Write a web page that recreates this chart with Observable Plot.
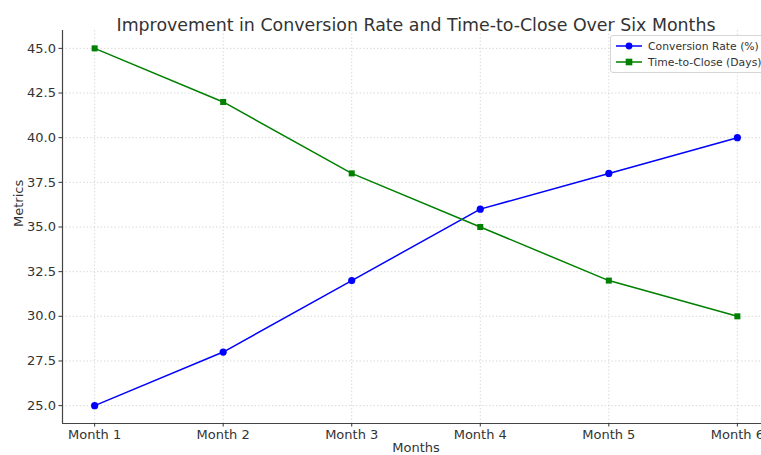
<!DOCTYPE html>
<html>
<head>
<meta charset="utf-8">
<script src="https://cdn.jsdelivr.net/npm/d3@7"></script>
<script src="https://cdn.jsdelivr.net/npm/@observablehq/plot@0.6"></script>
<style>
  html, body { margin: 0; padding: 0; background: #fff; overflow: hidden; }
  #wrap { position: relative; width: 761px; height: 455px; overflow: hidden; font-family: "DejaVu Sans", sans-serif; }
  #legend {
    position: absolute; left: 610px; top: 35px; width: 160px; height: 38px;
    border: 1px solid #d6d6d6; border-radius: 3px; background: rgba(255,255,255,0.8);
    font-size: 10.8px; color: #333; box-sizing: border-box;
  }
  .row { position: absolute; left: 4px; height: 14px; display: flex; align-items: center; }
  .row svg { margin-right: 5px; }
</style>
</head>
<body>
<div id="wrap"></div>
<script>
// Monthly metrics
const months = ["Month 1", "Month 2", "Month 3", "Month 4", "Month 5", "Month 6"];
const conversionRate = [25, 28, 32, 36, 38, 40];
const timeToClose = [45, 42, 38, 35, 32, 30];
const yTicks = [25, 27.5, 30, 32.5, 35, 37.5, 40, 42.5, 45];

const title = "Improvement in Conversion Rate and Time-to-Close Over Six Months";
const seriesNames = ["Conversion Rate (%)", "Time-to-Close (Days)"];
const seriesColors = ["blue", "green"];

const rows = months.map((m, i) => ({i, month: m, conv: conversionRate[i], ttc: timeToClose[i]}));

const font = "DejaVu Sans, sans-serif";
const chart = Plot.plot({
  width: 761,
  height: 455,
  marginLeft: 62,
  marginRight: 0,
  marginTop: 30,
  marginBottom: 32,
  style: {fontFamily: font, background: "#fff", overflow: "visible"},
  x: {domain: [-0.25, 5.25], range: [62, 769], axis: null},
  y: {domain: [24, 46], axis: null},
  marks: [
    // dotted grid
    Plot.ruleX(d3.range(months.length), {stroke: "#d0d0d0", strokeDasharray: "1.5,2", strokeWidth: 0.8}),
    Plot.ruleY(yTicks, {stroke: "#d0d0d0", strokeDasharray: "1.5,2", strokeWidth: 0.8}),
    // series
    Plot.line(rows, {x: "i", y: "conv", stroke: seriesColors[0], strokeWidth: 1.5}),
    Plot.dot(rows, {x: "i", y: "conv", fill: seriesColors[0], r: 3.6, symbol: "circle"}),
    Plot.line(rows, {x: "i", y: "ttc", stroke: seriesColors[1], strokeWidth: 1.5}),
    Plot.dot(rows, {x: "i", y: "ttc", fill: seriesColors[1], r: 3.4, symbol: "square"}),
    // spines
    Plot.ruleX([-0.25], {stroke: "#444", strokeWidth: 1.2}),
    Plot.ruleY([24], {stroke: "#444", strokeWidth: 1.2}),
    // axes
    Plot.axisY({ticks: yTicks, tickFormat: d => d.toFixed(1), tickSize: 3.5, tickPadding: 3,
      fontSize: 13, color: "#333", anchor: "left", label: null}),
    Plot.axisX({ticks: d3.range(months.length), tickFormat: i => months[i], tickSize: 3.5,
      tickPadding: 3, fontSize: 13, color: "#333", anchor: "bottom", label: null}),
    // title and axis labels
    Plot.text([title], {x: 2.5, frameAnchor: "top", dy: -12, fontSize: 17.4, fill: "#333"}),
    Plot.text(["Months"], {x: 2.5, frameAnchor: "bottom", dy: 28, fontSize: 13, fill: "#333"}),
    Plot.text(["Metrics"], {frameAnchor: "left", dx: -44, rotate: -90, fontSize: 13, fill: "#333"})
  ]
});

const wrap = document.getElementById("wrap");
wrap.appendChild(chart);

// legend
const legend = document.createElement("div");
legend.id = "legend";
const symbols = ["circle", "square"];
seriesNames.forEach((name, k) => {
  const row = document.createElement("div");
  row.className = "row";
  row.style.top = (3 + k * 16) + "px";
  const marker = symbols[k] === "circle"
    ? `<circle cx="14" cy="7" r="3.4" fill="${seriesColors[k]}"/>`
    : `<rect x="10.7" y="3.7" width="6.6" height="6.6" fill="${seriesColors[k]}"/>`;
  row.innerHTML = `<svg width="28" height="14"><line x1="1" x2="27" y1="7" y2="7" stroke="${seriesColors[k]}" stroke-width="1.5"/>${marker}</svg><span>${name}</span>`;
  legend.appendChild(row);
});
wrap.appendChild(legend);
</script>
</body>
</html>
